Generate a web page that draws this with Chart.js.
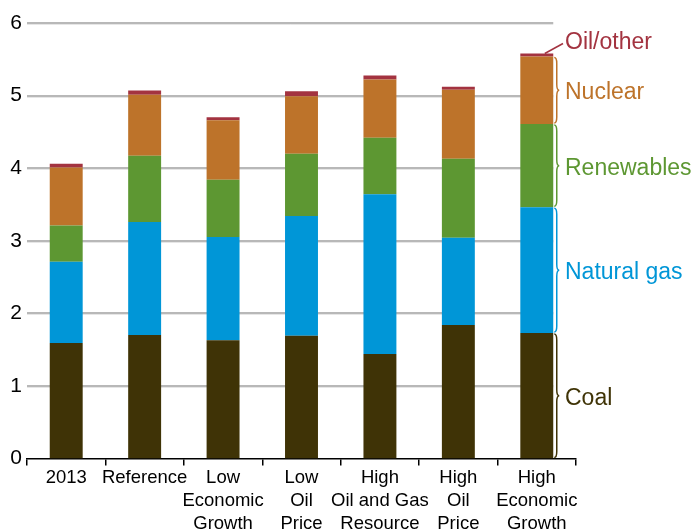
<!DOCTYPE html>
<html>
<head>
<meta charset="utf-8">
<script src="https://cdn.jsdelivr.net/npm/chart.js@4"></script>
<style>
  body { margin: 0; background: #fff; }
  #wrap { width: 693px; height: 529px; }
</style>
</head>
<body>
<div id="wrap"><canvas id="chart" width="693" height="529"></canvas></div>
<script>
const categories = [
    '2013',
    'Reference',
    ['Low', 'Economic', 'Growth'],
    ['Low', 'Oil', 'Price'],
    ['High', 'Oil and Gas', 'Resource'],
    ['High', 'Oil', 'Price'],
    ['High', 'Economic', 'Growth']
];
const coal       = [1.59, 1.70, 1.63, 1.69, 1.44, 1.84, 1.73];
const naturalGas = [1.12, 1.56, 1.42, 1.65, 2.20, 1.20, 1.73];
const renewables = [0.50, 0.91, 0.79, 0.86, 0.78, 1.09, 1.15];
const nuclear    = [0.80, 0.84, 0.82, 0.79, 0.80, 0.95, 0.93];
const oilOther   = [0.05, 0.06, 0.04, 0.07, 0.055, 0.04, 0.04];
const yTicks = [0, 1, 2, 3, 4, 5, 6];

const seriesNames = ['Coal', 'Natural gas', 'Renewables', 'Nuclear', 'Oil/other'];
const seriesColors = ['#3f3306', '#0096d7', '#5d9732', '#bd732a', '#a33340'];
const seriesData = [coal, naturalGas, renewables, nuclear, oilOther];

const FONT = '"Liberation Sans", Arial, sans-serif';

function drawBrace(ctx, x, top, bottom, color) {
    const w = 2.5;
    const r = Math.min(6, (bottom - top) / 4);
    const mid = (top + bottom) / 2;
    ctx.beginPath();
    ctx.moveTo(x, top);
    ctx.quadraticCurveTo(x + w, top, x + w, top + r);
    ctx.lineTo(x + w, mid - r);
    ctx.quadraticCurveTo(x + w, mid, x + 2 * w, mid);
    ctx.quadraticCurveTo(x + w, mid, x + w, mid + r);
    ctx.lineTo(x + w, bottom - r);
    ctx.quadraticCurveTo(x + w, bottom, x, bottom);
    ctx.strokeStyle = color;
    ctx.lineWidth = 1.5;
    ctx.stroke();
}

const extras = {
    id: 'extras',
    beforeDatasetsDraw(chart) {
        const ctx = chart.ctx;
        const y = chart.scales.y;
        const lastBar = chart.getDatasetMeta(0).data[categories.length - 1];
        const right = lastBar.x + lastBar.width / 2;
        ctx.save();
        yTicks.forEach(v => {
            if (v === 0) return;
            const py = Math.round(y.getPixelForValue(v));
            ctx.strokeStyle = '#e6e6e6';
            ctx.lineWidth = 1;
            ctx.beginPath();
            ctx.moveTo(chart.chartArea.left, py + 1.5);
            ctx.lineTo(right, py + 1.5);
            ctx.stroke();
            ctx.strokeStyle = '#a0a0a0';
            ctx.lineWidth = 1.5;
            ctx.beginPath();
            ctx.moveTo(chart.chartArea.left, py);
            ctx.lineTo(right, py);
            ctx.stroke();
        });
        ctx.restore();
    },
    afterDatasetsDraw(chart) {
        const ctx = chart.ctx;
        const last = categories.length - 1;
        ctx.save();
        ctx.font = '23px ' + FONT;
        ctx.textBaseline = 'middle';
        ctx.textAlign = 'left';
        for (let i = 0; i < 4; i++) {
            const bar = chart.getDatasetMeta(i).data[last];
            const x = bar.x + bar.width / 2 + 1;
            const top = bar.y + 1;
            const bottom = bar.base - 1;
            drawBrace(ctx, x, top, bottom, seriesColors[i]);
            ctx.fillStyle = seriesColors[i];
            ctx.fillText(seriesNames[i], 565, (top + bottom) / 2 + 3);
        }
        const oil = chart.getDatasetMeta(4).data[last];
        ctx.strokeStyle = seriesColors[4];
        ctx.lineWidth = 1.5;
        ctx.beginPath();
        ctx.moveTo(oil.x + 8, oil.y);
        ctx.lineTo(563, oil.y - 10);
        ctx.stroke();
        ctx.fillStyle = seriesColors[4];
        ctx.fillText(seriesNames[4], 565, oil.y - 11);
        ctx.restore();
    }
};

new Chart(document.getElementById('chart'), {
    type: 'bar',
    data: {
        labels: categories,
        datasets: seriesData.map((d, i) => ({
            label: seriesNames[i],
            data: d,
            backgroundColor: seriesColors[i],
            borderWidth: 0,
            categoryPercentage: 1,
            barPercentage: 0.42
        }))
    },
    options: {
        responsive: false,
        animation: false,
        layout: { padding: { left: 0, right: 117, top: 23, bottom: 0 } },
        plugins: {
            legend: { display: false },
            tooltip: { enabled: false }
        },
        scales: {
            x: {
                stacked: true,
                grid: {
                    display: true,
                    drawOnChartArea: false,
                    drawTicks: true,
                    tickLength: 7,
                    color: '#000',
                    lineWidth: 1.5
                },
                border: { display: true, color: '#000', width: 1.5 },
                ticks: {
                    autoSkip: false,
                    maxRotation: 0,
                    minRotation: 0,
                    padding: 1,
                    color: '#000',
                    font: { family: FONT, size: 18.5, lineHeight: '23px' }
                },
                afterFit(scale) { scale.height = 70.5; }
            },
            y: {
                stacked: true,
                min: 0,
                max: 6,
                grid: { display: false, drawTicks: false },
                border: { display: false },
                ticks: {
                    stepSize: 1,
                    padding: 5,
                    color: '#000',
                    font: { family: FONT, size: 21 }
                },
                afterFit(scale) { scale.width = 27; }
            }
        }
    },
    plugins: [extras]
});
</script>
</body>
</html>
